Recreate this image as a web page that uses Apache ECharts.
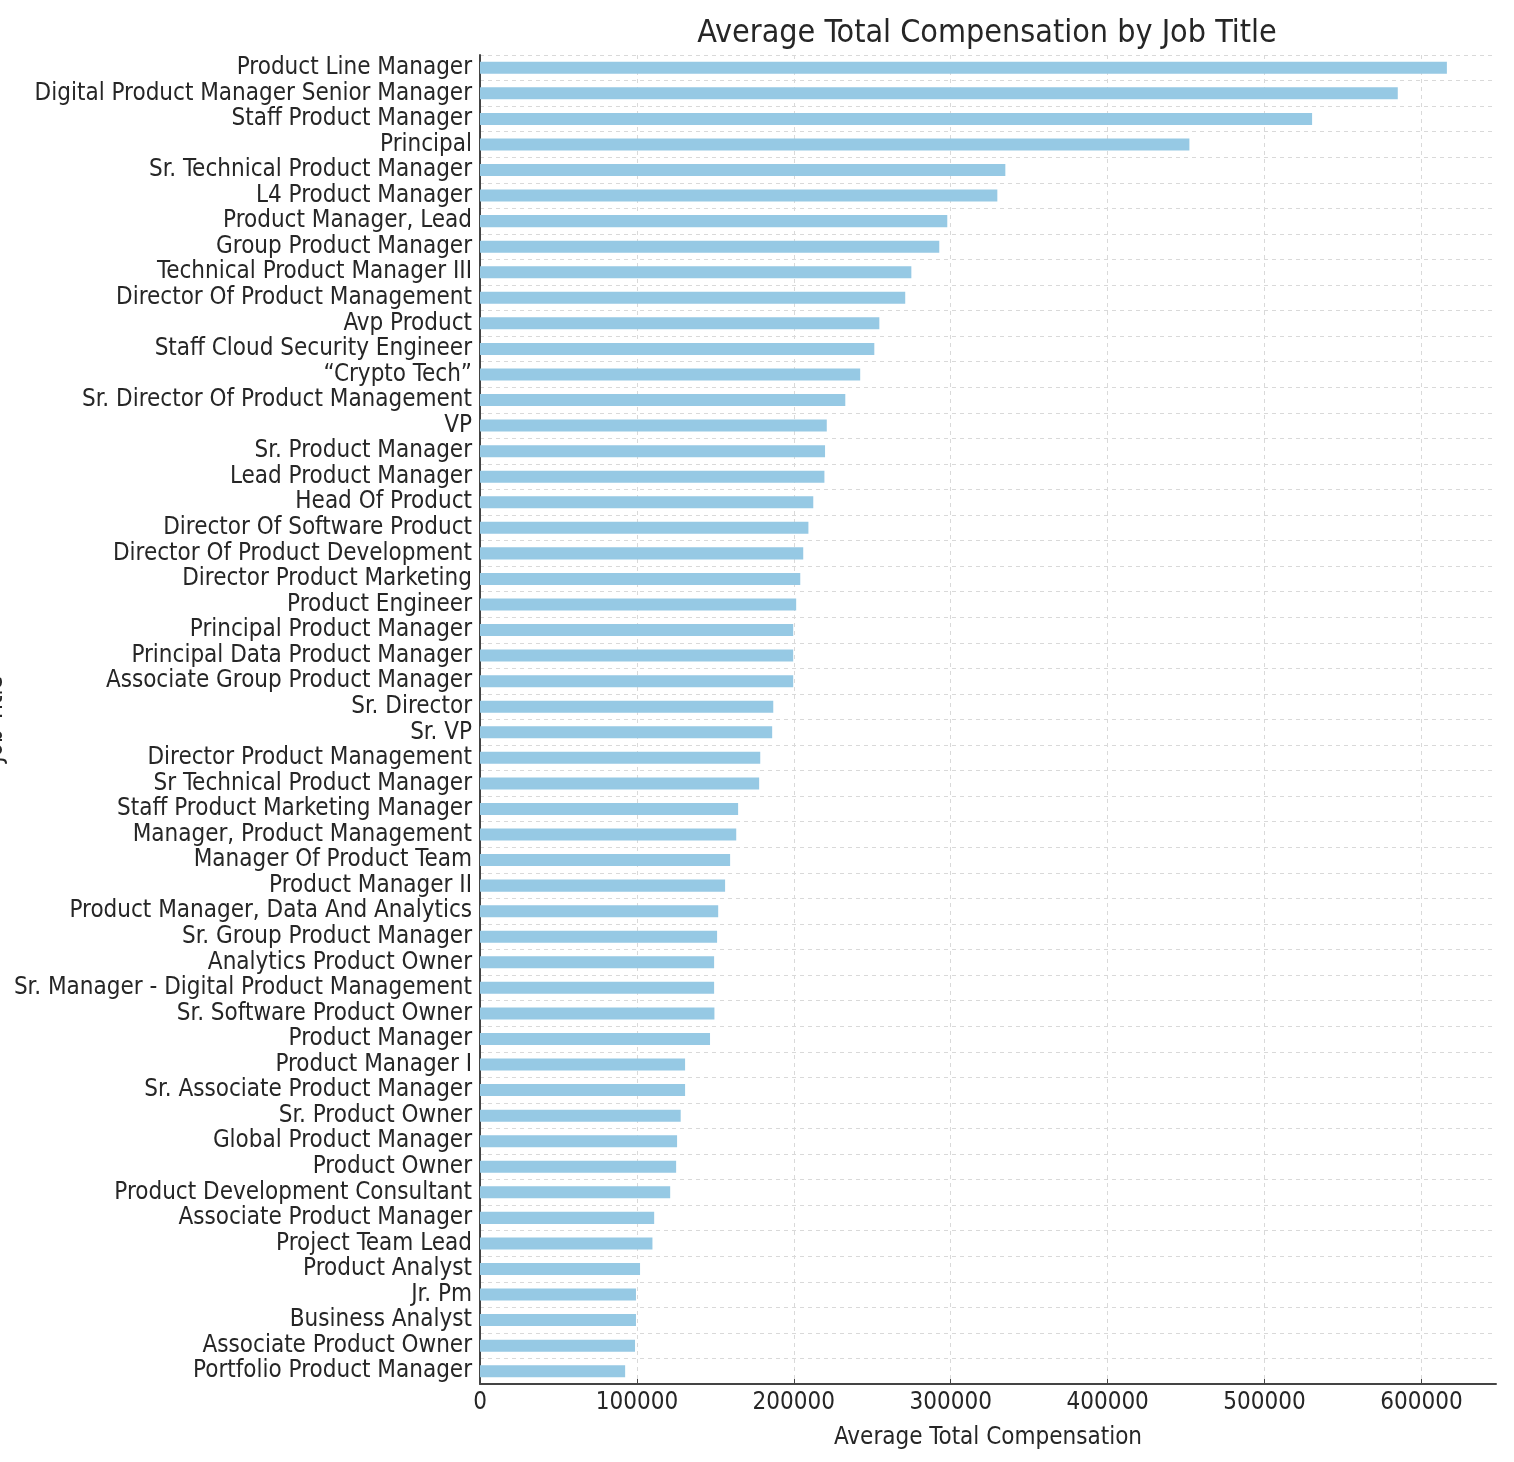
<!DOCTYPE html>
<html>
<head>
<meta charset="utf-8">
<script src="https://cdn.jsdelivr.net/npm/echarts@6/dist/echarts.min.js"></script>
<style>
html,body{margin:0;padding:0;background:#fff;}
#chart{width:1514px;height:1462px;}
</style>
</head>
<body>
<div id="chart"></div>
<script>
// Categories listed from top to bottom as shown
const jobTitles = [
  "Product Line Manager",
  "Digital Product Manager Senior Manager",
  "Staff Product Manager",
  "Principal",
  "Sr. Technical Product Manager",
  "L4 Product Manager",
  "Product Manager, Lead",
  "Group Product Manager",
  "Technical Product Manager III",
  "Director Of Product Management",
  "Avp Product",
  "Staff Cloud Security Engineer",
  "\u201CCrypto Tech\u201D",
  "Sr. Director Of Product Management",
  "VP",
  "Sr. Product Manager",
  "Lead Product Manager",
  "Head Of Product",
  "Director Of Software Product",
  "Director Of Product Development",
  "Director Product Marketing",
  "Product Engineer",
  "Principal Product Manager",
  "Principal Data Product Manager",
  "Associate Group Product Manager",
  "Sr. Director",
  "Sr. VP",
  "Director Product Management",
  "Sr Technical Product Manager",
  "Staff Product Marketing Manager",
  "Manager, Product Management",
  "Manager Of Product Team",
  "Product Manager II",
  "Product Manager, Data And Analytics",
  "Sr. Group Product Manager",
  "Analytics Product Owner",
  "Sr. Manager - Digital Product Management",
  "Sr. Software Product Owner",
  "Product Manager",
  "Product Manager I",
  "Sr. Associate Product Manager",
  "Sr. Product Owner",
  "Global Product Manager",
  "Product Owner",
  "Product Development Consultant",
  "Associate Product Manager",
  "Project Team Lead",
  "Product Analyst",
  "Jr. Pm",
  "Business Analyst",
  "Associate Product Owner",
  "Portfolio Product Manager"
];
const avgCompensation = [
  616200, 584900, 530300, 452100, 334800, 329700, 297800, 292700, 274900, 271000,
  254500, 251300, 242300, 232800, 221000, 219900, 219500, 212400, 209300, 206000,
  204100, 201500, 199600, 199600, 199600, 186900, 186200, 178600, 177900, 164500,
  163300, 159400, 156200, 151800, 151100, 149200, 149200, 149400, 146600, 130700,
  130700, 127900, 125600, 125000, 121200, 111000, 109900, 102000, 99400, 99400,
  98800, 92500
];
const xTicks = [0, 100000, 200000, 300000, 400000, 500000, 600000];
const xMax = 647500;

const FONT = "'DejaVu Sans Condensed', 'DejaVu Sans', sans-serif";
const chart = echarts.init(document.getElementById('chart'), null, {renderer: 'canvas'});
const gridColors = xTicks.map(() => '#d9d9d9').concat(['rgba(0,0,0,0)']);
chart.setOption({
  backgroundColor: '#ffffff',
  animation: false,
  title: {
    text: 'Average Total Compensation by Job Title',
    left: 982, top: 13, textAlign: 'center',
    textStyle: {fontFamily: FONT, fontSize: 32, fontWeight: 'normal', color: '#262626'}
  },
  grid: {left: 480, right: 18, top: 55, bottom: 78, containLabel: false, outerBoundsMode: 'none'},
  xAxis: {
    type: 'value', min: 0, max: xMax, interval: 100000,
    name: 'Average Total Compensation', nameLocation: 'middle', nameGap: 42,
    nameMoveOverlap: false,
    nameTextStyle: {fontFamily: FONT, fontSize: 24, color: '#262626'},
    axisLine: {show: true, lineStyle: {color: '#444', width: 2}},
    axisTick: {show: true, inside: true, length: 5, lineStyle: {color: '#444'}},
    axisLabel: {fontFamily: FONT, fontSize: 24, color: '#262626', margin: 7, showMaxLabel: false,
      formatter: v => (xTicks.indexOf(v) >= 0 ? String(v) : '')},
    splitLine: {show: true, lineStyle: {color: gridColors, type: [4, 4], width: 1}}
  },
  yAxis: {
    type: 'category', inverse: true, data: jobTitles,
    name: 'Job Title', nameLocation: 'middle', nameGap: 472, nameRotate: 90,
    nameMoveOverlap: false,
    nameTextStyle: {fontFamily: FONT, fontSize: 24, color: '#262626'},
    axisLine: {show: true, lineStyle: {color: '#444', width: 2}},
    axisTick: {show: true, inside: true, length: 5, alignWithLabel: true, lineStyle: {color: '#444'}},
    axisLabel: {fontFamily: FONT, fontSize: 24, color: '#262626', margin: 8, interval: 0,
      padding: [3, 0, 0, 0]},
    splitLine: {show: true, interval: 0, lineStyle: {color: '#d9d9d9', type: [4, 4], width: 1}}
  },
  series: [{
    type: 'bar', data: avgCompensation, barWidth: '47%',
    itemStyle: {color: '#96c9e4'}
  }]
});
</script>
</body>
</html>
